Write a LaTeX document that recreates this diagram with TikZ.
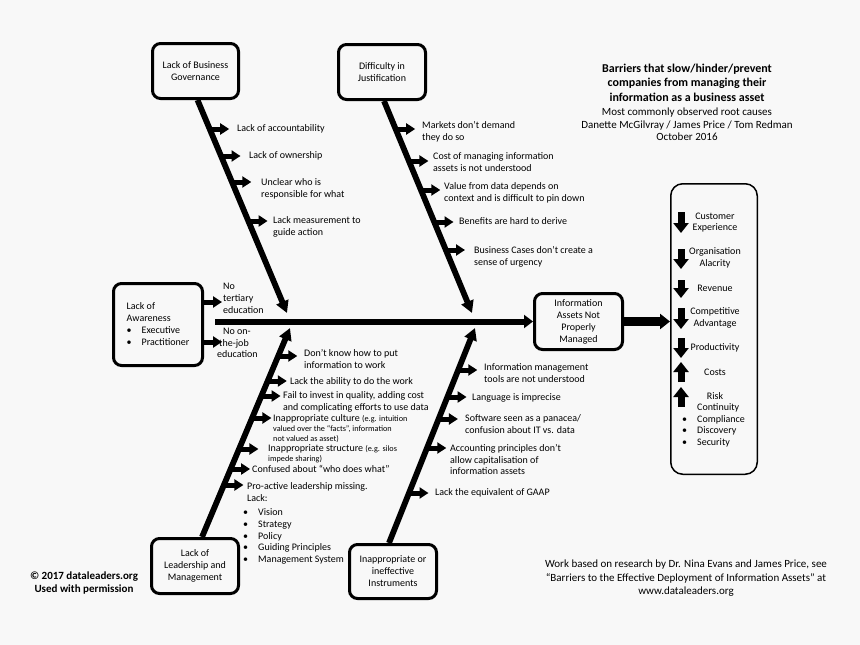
\documentclass[tikz,border=0pt]{standalone}
\usepackage{fontspec}
\setmainfont{Carlito}
\usetikzlibrary{arrows.meta,calc}
\definecolor{bgc}{RGB}{248,248,248}
\newcommand{\smallf}{\fontsize{8.2}{10}\selectfont}
\newcommand{\bul}{\makebox[15pt][l]{\textbullet}}
\newcommand{\causeitem}[6]{%
  \coordinate (#1s) at (#2,#3);
  \coordinate (#1e) at ({#2+19},#3);
  \draw[branch] (#1s) -- (#1e);
  \node[lbl] (#1t) at (#4,#5) {#6};}
\begin{document}
\begin{tikzpicture}[x=1pt,y=-1pt,
  box/.style={draw, line width=3pt, rounded corners=8pt, align=center, inner sep=0pt, font=\fontsize{10}{12}\selectfont},
  lbl/.style={anchor=north west, inner sep=0pt, align=left, font=\fontsize{10}{11.6}\selectfont},
  rt/.style={inner sep=0pt, align=center, font=\fontsize{10}{11.7}\selectfont},
  branch/.style={line width=5pt, -{Triangle[length=9pt,width=11pt]}},
  bone/.style={line width=5.8pt, -{Triangle[length=12pt,width=12.5pt]}},
  spine/.style={line width=6pt, -{Triangle[length=9pt,width=13pt]}},
  bigarrow/.style={line width=8.5pt, -{Triangle[length=10pt,width=15pt]}},
  blk/.style={line width=7pt, -{Triangle[length=10pt,width=15pt]}}
]
\fill[bgc] (0,0) rectangle (860,645);
\useasboundingbox (0,0) rectangle (860,645);

% main boxes
\node[box, minimum width=86pt, minimum height=55pt] (gov) at (195.5,71) {Lack of Business\\Governance};
\node[box, minimum width=87pt, minimum height=55pt] (just) at (382,72) {Difficulty in\\Justification};
\node[box, minimum width=89pt, minimum height=82pt, align=left] (aw) at (158,324.5) {Lack of\\Awareness\\\bul Executive\\\bul Practitioner};
\node[box, minimum width=88pt, minimum height=56pt] (info) at (578.5,321.5) {Information\\Assets Not\\Properly\\Managed};
\node[box, minimum width=87pt, minimum height=55pt] (lead) at (195,566) {Lack of\\Leadership and\\Management};
\node[box, minimum width=87pt, minimum height=54pt] (instr) at (393,571.5) {Inappropriate or\\ineffective\\Instruments};
\node[draw, line width=1.5pt, rounded corners=12pt, minimum width=86.5pt, minimum height=290.5pt, inner sep=0pt] (eff) at (714,329) {};

% spine
\coordinate (sp) at (215,321.5);
\draw[spine] (sp) -- (info.west);
\draw[bigarrow] (info.east) -- (info.east -| eff.west);

% bones
\coordinate (govtip) at (287,313);
\coordinate (justtip) at (472,313);
\coordinate (leadtip) at (290,328);
\coordinate (instrtip) at (475,328);
\draw[bone] ($(gov.south)+(2,0)$) -- (govtip);
\draw[bone] ($(just.south)+(2,0)$) -- (justtip);
\draw[bone] ($(lead.north)+(7,0)$) -- (leadtip);
\draw[bone] ($(instr.north)+(-4,0)$) -- (instrtip);

% awareness arrows
\coordinate (aw1s) at (202.5,302);
\coordinate (aw1e) at (222,302);
\coordinate (aw2s) at (202.5,342);
\coordinate (aw2e) at (222,342);
\draw[branch] (aw1s) -- (aw1e);
\draw[branch] (aw2s) -- (aw2e);
\node[lbl, font=\fontsize{10}{12}\selectfont] (aw1t) at (223,282.8) {No\\tertiary\\education};
\node[lbl, font=\fontsize{10}{11.6}\selectfont] (aw2t) at (217,327.8) {\hspace*{6pt}No on-\\\hspace*{2pt}the-job\\education};

% governance causes
\causeitem{g1}{210.2}{129}{237}{124.4}{Lack of accountability}
\causeitem{g2}{221.5}{156}{249}{151.4}{Lack of ownership}
\causeitem{g3}{232.3}{182}{261}{178.4}{Unclear who is\\responsible for what}
\causeitem{g4}{248.6}{221}{273}{216.4}{Lack measurement to\\guide action}

% justification causes
\causeitem{j1}{396.2}{129}{422}{121.4}{Markets don’t demand\\they do so}
\causeitem{j2}{409.4}{161}{433}{152.4}{Cost of managing information\\assets is not understood}
\causeitem{j3}{421.3}{190}{444}{182.4}{Value from data depends on\\context and is difficult to pin down}
\causeitem{j4}{434.5}{222}{459}{217.4}{Benefits are hard to derive}
\causeitem{j5}{446}{250}{474}{246.4}{Business Cases don’t create a\\sense of urgency}

% leadership causes
\causeitem{l1}{278.3}{356}{304}{349.4}{Don’t know how to put\\information to work}
\causeitem{l2}{267.8}{381}{290}{377.4}{Lack the ability to do the work}
\causeitem{l3}{261.6}{396}{283}{391.4}{Fail to invest in quality, adding cost\\and complicating efforts to use data}
\tikzset{lbl/.append style={font=\fontsize{10}{10}\selectfont}}
\causeitem{l4}{252.4}{418}{273}{414.4}{Inappropriate culture {\smallf(e.g. intuition}\\{\smallf valued over the “facts”, information}\\{\smallf not valued as asset)}}
\causeitem{l5}{239.4}{449}{268}{444.4}{Inappropriate structure {\smallf(e.g. silos}\\{\smallf impede sharing)}}
\tikzset{lbl/.append style={font=\fontsize{10}{11.6}\selectfont}}
\causeitem{l6}{231.1}{469}{252}{465.4}{Confused about “who does what”}
\causeitem{l7}{224.4}{485}{247}{482.4}{Pro-active leadership missing.\\Lack:}
\node[lbl, font=\fontsize{10}{11.8}\selectfont] (lacklist) at (243,508.4) {\bul Vision\\\bul Strategy\\\bul Policy\\\bul Guiding Principles\\\bul Management System};

% instruments causes
\causeitem{i1}{458.3}{370}{484}{363.4}{Information management\\tools are not understood}
\causeitem{i2}{447.6}{397}{472}{393.4}{Language is imprecise}
\causeitem{i3}{438.9}{419}{465}{414.4}{Software seen as a panacea/\\confusion about IT vs. data}
\causeitem{i4}{427.3}{448}{450}{444.4}{Accounting principles don’t\\allow capitalisation of\\information assets}
\causeitem{i5}{409.5}{493}{435}{488.4}{Lack the equivalent of GAAP}

% effects box content
\draw[blk] (681,212) -- (681,233);
\draw[blk] (681,249) -- (681,269);
\draw[blk] (681,280) -- (681,298);
\draw[blk] (681,308) -- (681,329);
\draw[blk] (681,338) -- (681,358);
\draw[blk] (681,382) -- (681,362);
\draw[blk] (681,407) -- (681,387);
\node[rt] (ce) at (715,222.5) {Customer\\Experience};
\node[rt] (oa) at (715,258) {Organisation\\Alacrity};
\node[rt] (rev) at (715,288) {Revenue};
\node[rt] (ca) at (715,318) {Competitive\\Advantage};
\node[rt] (prod) at (715,348) {Productivity};
\node[rt] (cost) at (715,372) {Costs};
\node[rt] (risk) at (715,396) {Risk};
\node[lbl, font=\fontsize{10}{11.7}\selectfont] (risklist) at (682,403.4) {\hspace*{15pt}Continuity\\\bul Compliance\\\bul Discovery\\\bul Security};

% titles
\node[anchor=north, align=center, inner sep=0pt, font=\bfseries\fontsize{12}{14.5}\selectfont] (title) at (687,63.4) {Barriers that slow/hinder/prevent\\companies from managing their\\information as a business asset};
\node[anchor=north, align=center, inner sep=0pt, font=\fontsize{11}{12.6}\selectfont] (sub) at (687,107.9) {Most commonly observed root causes\\Danette McGilvray / James Price / Tom Redman\\October 2016};
\node[anchor=north, align=center, inner sep=0pt, font=\bfseries\fontsize{11}{13}\selectfont] (copy) at (84,571.9) {© 2017 dataleaders.org\\Used with permission};
\node[anchor=north, align=center, inner sep=0pt, font=\fontsize{11}{13.5}\selectfont] (work) at (686,559.9) {Work based on research by Dr. Nina Evans and James Price, see\\“Barriers to the Effective Deployment of Information Assets” at\\www.dataleaders.org};
\end{tikzpicture}
\end{document}
